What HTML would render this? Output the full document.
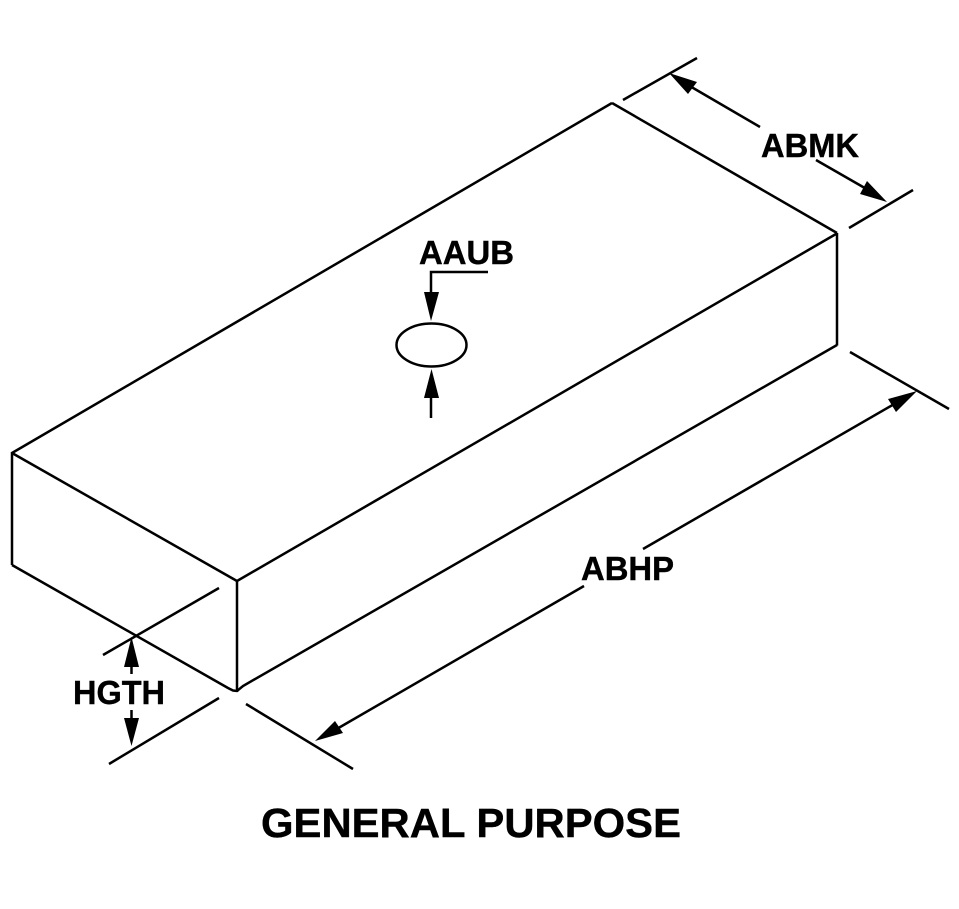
<!DOCTYPE html>
<html>
<head>
<meta charset="utf-8">
<style>
html,body{margin:0;padding:0;background:#fff;}
svg{display:block;}
text{font-family:"Liberation Sans",sans-serif;font-weight:bold;fill:#000;stroke:#000;stroke-width:0.4;}
</style>
</head>
<body>
<svg width="959" height="909" viewBox="0 0 959 909" xmlns="http://www.w3.org/2000/svg">
<g fill="none" stroke="#000" stroke-width="2.5" stroke-linecap="butt">
<!-- box -->
<path d="M12 453L612 103"/>
<path d="M612 103L837 233"/>
<path d="M12 453L237 581"/>
<path d="M237 581L836 234"/>
<path d="M12 452V565"/>
<path d="M237 581V692"/>
<path d="M837 233V345.5"/>
<path d="M12 565L228 688L233 690.500L237 691L243 686L837 345"/>
<!-- hole -->
<ellipse cx="431.500" cy="345" rx="35" ry="21.500"/>
<!-- AAUB leader -->
<path d="M488 272H431V296"/>
<path d="M431 418V394"/>
<!-- ABMK -->
<path d="M623 100L697 58"/>
<path d="M849 228L913 190"/>
<path d="M688 85L760 127"/>
<path d="M816 160L870 191"/>
<!-- ABHP -->
<path d="M850 352L949 409"/>
<path d="M246 704L353 769"/>
<path d="M896 403L643 549"/>
<path d="M584 586L335 730"/>
<!-- HGTH -->
<path d="M103 655L219 588"/>
<path d="M109 764L219 698"/>
<path d="M131.500 662V674"/>
<path d="M131.500 710V724"/>
</g>
<g fill="#000" stroke="none">
<polygon points="431,321 424,292 439,292"/>
<polygon points="431.500,369 424,398 439,398"/>
<polygon points="669,73 697,82 688,94"/>
<polygon points="887,202 867,181 860,194"/>
<polygon points="917,391 888,399 896,412"/>
<polygon points="315,741 335,721 343,733"/>
<polygon points="131.500,637 124,667 139,667"/>
<polygon points="131.500,746 124,718 139,718"/>
</g>
<text x="761" y="157" font-size="33" textLength="98" lengthAdjust="spacingAndGlyphs">ABMK</text>
<text x="419" y="264" font-size="33" textLength="95" lengthAdjust="spacingAndGlyphs">AAUB</text>
<text x="581" y="580" font-size="33" textLength="93" lengthAdjust="spacingAndGlyphs">ABHP</text>
<text x="73" y="704" font-size="33" textLength="92" lengthAdjust="spacingAndGlyphs">HGTH</text>
<text x="261" y="837" font-size="41" textLength="420" lengthAdjust="spacingAndGlyphs">GENERAL PURPOSE</text>
</svg>
</body>
</html>
